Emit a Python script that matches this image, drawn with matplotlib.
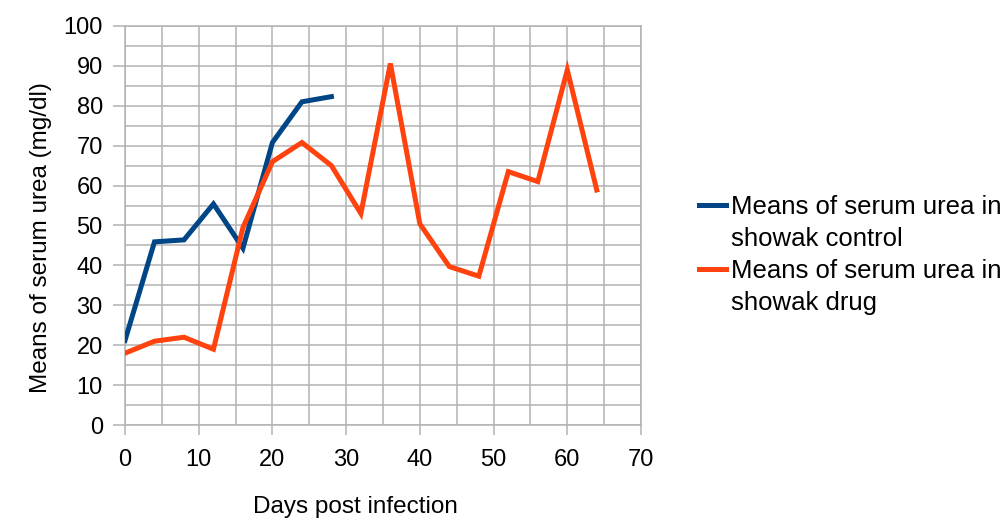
"""Serum urea means over days post infection, showak control vs drug."""
import matplotlib
matplotlib.use("Agg")
import matplotlib.pyplot as plt
import numpy as np
from matplotlib.legend_handler import HandlerLine2D
from matplotlib.ticker import MultipleLocator

plt.rcParams["font.family"] = ["Liberation Sans", "DejaVu Sans"]

CONTROL_DAYS = [0, 4, 8, 12, 16, 20, 24, 28]
CONTROL_UREA = [21.2, 45.9, 46.4, 55.4, 44.3, 70.8, 81.0, 82.3]

DRUG_DAYS = [0, 4, 8, 12, 16, 20, 24, 28, 32, 36, 40, 44, 48, 52, 56, 60, 64]
DRUG_UREA = [18.0, 21.0, 22.0, 19.0, 49.5, 66.0, 70.8, 65.0, 53.0, 90.6,
             50.4, 39.7, 37.3, 63.5, 61.0, 89.0, 58.9]

CONTROL_LABEL = "Means of serum urea in\nshowak control"
DRUG_LABEL = "Means of serum urea in\nshowak drug"

GRID = "#b3b3b3"


class TopLineHandler(HandlerLine2D):
    """Legend key drawn level with the first line of a wrapped label."""

    def create_artists(self, legend, orig_handle, xdescent, ydescent,
                       width, height, fontsize, trans):
        artists = super().create_artists(legend, orig_handle, xdescent, ydescent,
                                         width, height, fontsize, trans)
        for artist in artists:
            artist.set_ydata(np.asarray(artist.get_ydata()) + 0.72 * fontsize)
        return artists


fig = plt.figure(figsize=(10.06, 5.21), dpi=100)
ax = fig.add_axes([125 / 1006, 1 - 425 / 521, (641 - 125) / 1006, (425 - 26) / 521])

ax.plot(CONTROL_DAYS, CONTROL_UREA, color="#004586", linewidth=3.6,
        solid_joinstyle="miter", label=CONTROL_LABEL, zorder=3)
ax.plot(DRUG_DAYS, DRUG_UREA, color="#ff420e", linewidth=3.6,
        solid_joinstyle="miter", label=DRUG_LABEL, zorder=3)

ax.set_xlim(0, 70)
ax.set_ylim(0, 100)
ax.xaxis.set_major_locator(MultipleLocator(10))
ax.xaxis.set_minor_locator(MultipleLocator(5))
ax.yaxis.set_major_locator(MultipleLocator(10))
ax.yaxis.set_minor_locator(MultipleLocator(5))
ax.grid(which="both", color=GRID, linewidth=1.1)
ax.set_axisbelow(True)

for spine in ax.spines.values():
    spine.set_color(GRID)
    spine.set_linewidth(1.1)

ax.tick_params(which="major", direction="out", width=1.1, color=GRID, labelsize=17)
ax.tick_params(axis="y", which="major", length=9, pad=7)
ax.tick_params(axis="x", which="major", length=7.5, pad=10)
ax.tick_params(which="minor", length=0)

ax.set_xlabel("Days post infection", fontsize=17.5)
ax.set_ylabel("Means of serum urea (mg/dl)", fontsize=17.5)
ax.xaxis.set_label_coords(0.446, -0.178)
ax.yaxis.set_label_coords(-0.142, 0.47)

legend = fig.legend(loc="center left", bbox_to_anchor=(699 / 1006, 1 - 255 / 521),
                    frameon=False, fontsize=18.5, handlelength=1.05, handletextpad=0.2,
                    labelspacing=0.3, borderaxespad=0, borderpad=0,
                    handler_map={plt.Line2D: TopLineHandler()})
for text in legend.get_texts():
    text.set_linespacing(1.45)

fig.savefig("out.png", dpi=100)
